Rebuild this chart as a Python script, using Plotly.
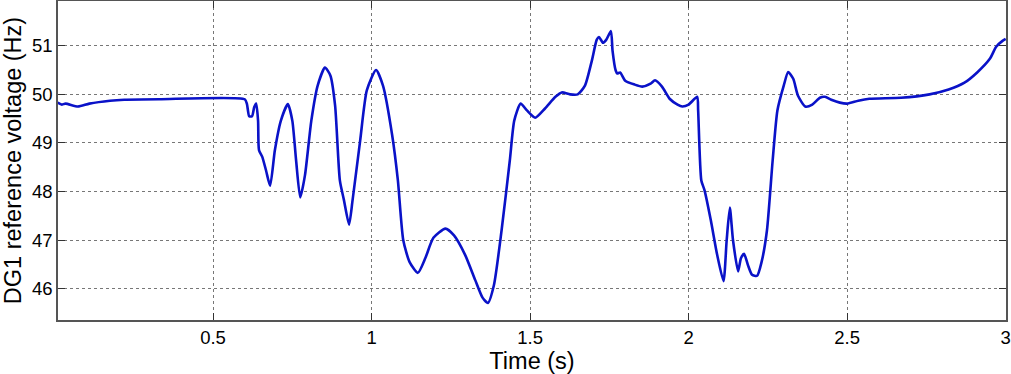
import plotly.graph_objects as go

time_s = [0.01, 0.022, 0.035, 0.074, 0.11, 0.175, 0.22, 0.33, 0.6, 0.607, 0.614, 0.623, 0.63, 0.636,
          0.642, 0.645, 0.655, 0.667, 0.68, 0.695, 0.714, 0.736, 0.75, 0.762, 0.775, 0.79, 0.81, 0.83,
          0.853, 0.87, 0.885, 0.9, 0.913, 0.929, 0.94, 0.964, 0.985, 1.014, 1.036, 1.065, 1.083, 1.10,
          1.12, 1.146, 1.17, 1.195, 1.233, 1.26, 1.295, 1.327, 1.35, 1.367, 1.386, 1.41, 1.436, 1.45,
          1.47, 1.49, 1.516, 1.547, 1.58, 1.6, 1.626, 1.65, 1.673, 1.695, 1.71, 1.717, 1.73, 1.74,
          1.755, 1.76, 1.77, 1.775, 1.784, 1.8, 1.83, 1.854, 1.88, 1.894, 1.916, 1.94, 1.965, 1.98,
          2.0, 2.027, 2.03, 2.04, 2.05, 2.07, 2.09, 2.11, 2.12, 2.13, 2.14, 2.156, 2.165, 2.175,
          2.187, 2.2, 2.216, 2.23, 2.247, 2.265, 2.28, 2.3, 2.314, 2.33, 2.345, 2.368, 2.39, 2.414,
          2.43, 2.45, 2.477, 2.5, 2.535, 2.57, 2.67, 2.76, 2.82, 2.87, 2.91, 2.95, 2.97, 2.99, 3.0]
voltage_hz = [49.83, 49.79, 49.81, 49.75, 49.81, 49.87, 49.89, 49.9, 49.9, 49.8, 49.55, 49.55, 49.74, 49.81,
              49.46, 48.85, 48.72, 48.44, 48.12, 48.85, 49.46, 49.8, 49.46, 48.64, 47.88, 48.34, 49.46, 50.18,
              50.55, 50.39, 49.77, 48.23, 47.82, 47.32, 47.82, 49.05, 50.08, 50.5, 50.18, 49.16, 48.23, 47.0,
              46.55, 46.33, 46.64, 47.05, 47.24, 47.1, 46.7, 46.18, 45.82, 45.71, 46.08, 47.2, 48.64, 49.46,
              49.81, 49.67, 49.52, 49.71, 49.95, 50.04, 50.0, 50.0, 50.18, 50.7, 51.12, 51.18, 51.06, 51.12,
              51.3, 50.9, 50.49, 50.43, 50.45, 50.28, 50.2, 50.16, 50.22, 50.29, 50.16, 49.91, 49.79, 49.75,
              49.79, 49.95, 49.67, 48.23, 48.03, 47.41, 46.7, 46.16, 47.0, 47.67, 47.0, 46.36, 46.63, 46.72,
              46.49, 46.29, 46.27, 46.55, 47.2, 48.64, 49.67, 50.18, 50.46, 50.32, 49.97, 49.75, 49.79, 49.93,
              49.95, 49.89, 49.83, 49.81, 49.87, 49.91, 49.93, 50.0, 50.1, 50.24, 50.45, 50.73, 50.98, 51.1, 51.14]

x_ticks = [0.5, 1, 1.5, 2, 2.5, 3]
x_tick_labels = ["0.5", "1", "1.5", "2", "2.5", "3"]
y_ticks = [46, 47, 48, 49, 50, 51]
y_tick_labels = ["46", "47", "48", "49", "50", "51"]

fig = go.Figure(go.Scatter(
    x=time_s, y=voltage_hz, mode="lines",
    line=dict(color="#0a12c8", width=2.6, shape="spline", smoothing=0.6),
    showlegend=False, cliponaxis=True,
))

font_family = "Liberation Sans, Arial, sans-serif"
axis_common = dict(
    showline=True, mirror="ticks", linecolor="#555555", linewidth=1.5,
    ticks="inside", ticklen=7, tickcolor="#333333",
    showgrid=True, gridcolor="#777777", griddash="dot", gridwidth=1,
    zeroline=False, tickfont=dict(family=font_family, size=18.5, color="black"),
)

fig.update_layout(
    width=1011, height=374,
    margin=dict(l=58, r=5, t=1, b=54),
    paper_bgcolor="white", plot_bgcolor="white",
    xaxis=dict(range=[0.011, 3.001], tickvals=x_ticks, ticktext=x_tick_labels,
               title=dict(text="Time (s)", font=dict(family=font_family, size=23.5, color="black"), standoff=4),
               automargin=False, **axis_common),
    yaxis=dict(range=[45.36, 51.92], tickvals=y_ticks, ticktext=y_tick_labels,
               title=dict(text="DG1 reference voltage (Hz)", font=dict(family=font_family, size=23.5, color="black"), standoff=6),
               automargin=False, **axis_common),
)

fig.write_html("out.html", config={"displayModeBar": False},
               post_script="document.body.style.margin='0';document.body.style.overflow='hidden';")
